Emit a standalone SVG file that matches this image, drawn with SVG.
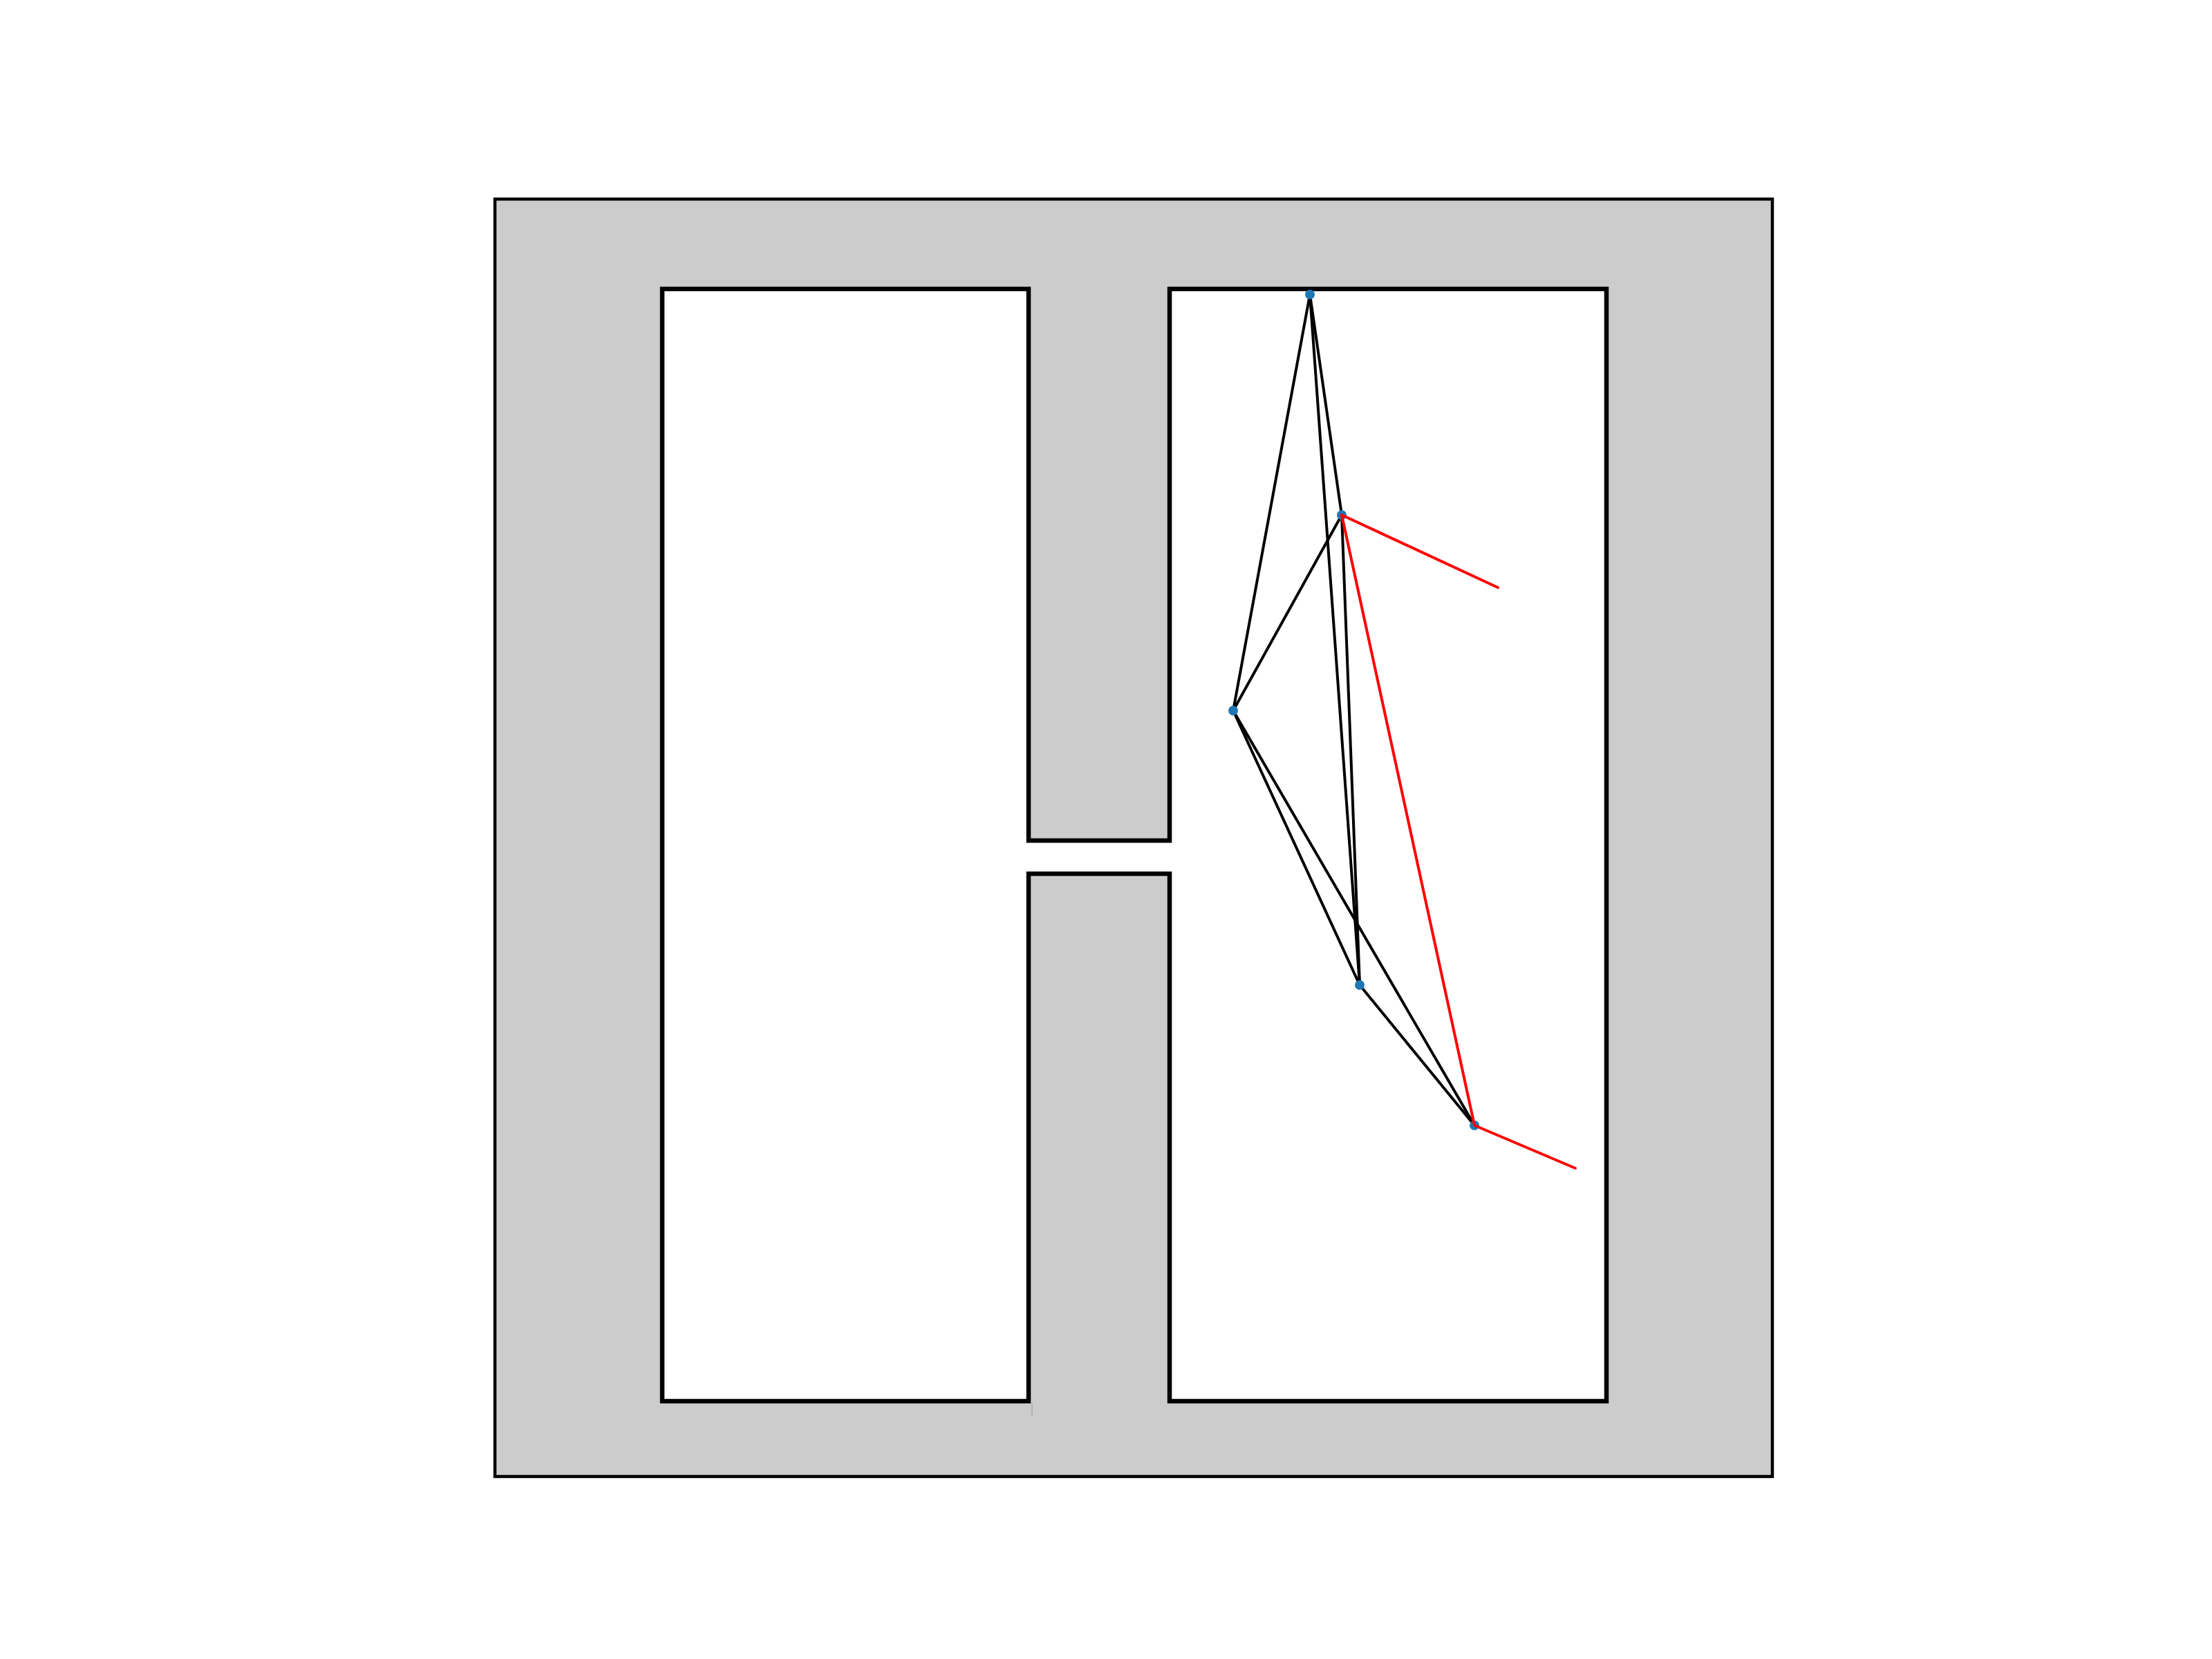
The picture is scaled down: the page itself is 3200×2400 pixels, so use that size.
<svg xmlns="http://www.w3.org/2000/svg" width="3200" height="2400" viewBox="0 0 3200 2400">
<style>
.edge{stroke:#000;stroke-width:4;fill:none;stroke-linecap:round}
.path{stroke:#ff0000;stroke-width:4;fill:none;stroke-linecap:round}
.node{fill:#1f77b4}
</style>
<rect width="3200" height="2400" fill="#fff"/>
<g id="map">
<rect x="716" y="288" width="1848" height="1848" fill="#cccccc" stroke="#000" stroke-width="4.5"/>
<polygon points="958,418 1488,418 1488,1216 1692,1216 1692,418 2324,418 2324,2027 1692,2027 1692,1264 1488,1264 1488,2027 958,2027" fill="#fff" stroke="#000" stroke-width="6.5" stroke-linejoin="miter"/>
<line x1="1493" y1="2030" x2="1493" y2="2048" stroke="#aaaaaa" stroke-width="1.5"/>
</g>
<g id="connectors">
<line class="edge" x1="1895" y1="426" x2="1784" y2="1028"/>
<line class="edge" x1="1895" y1="426" x2="1941" y2="745"/>
<line class="edge" x1="1895" y1="426" x2="1967" y2="1425"/>
<line class="edge" x1="1941" y1="745" x2="1784" y2="1028"/>
<line class="edge" x1="1941" y1="745" x2="1967" y2="1425"/>
<line class="edge" x1="1784" y1="1028" x2="1967" y2="1425"/>
<line class="edge" x1="1784" y1="1028" x2="2133" y2="1628"/>
<line class="edge" x1="1967" y1="1425" x2="2133" y2="1628"/>
</g>
<g id="node1"><circle class="node" cx="1895" cy="426" r="7"/></g>
<g id="node2"><circle class="node" cx="1941" cy="745" r="7"/></g>
<g id="node3"><circle class="node" cx="1784" cy="1028" r="7"/></g>
<g id="node4"><circle class="node" cx="1967" cy="1425" r="7"/></g>
<g id="node5"><circle class="node" cx="2133" cy="1628" r="7"/></g>
<g id="path">
<line class="path" x1="1941" y1="745" x2="2167" y2="850"/>
<line class="path" x1="1941" y1="745" x2="2133" y2="1628"/>
<line class="path" x1="2133" y1="1628" x2="2279" y2="1690"/>
</g>
</svg>
